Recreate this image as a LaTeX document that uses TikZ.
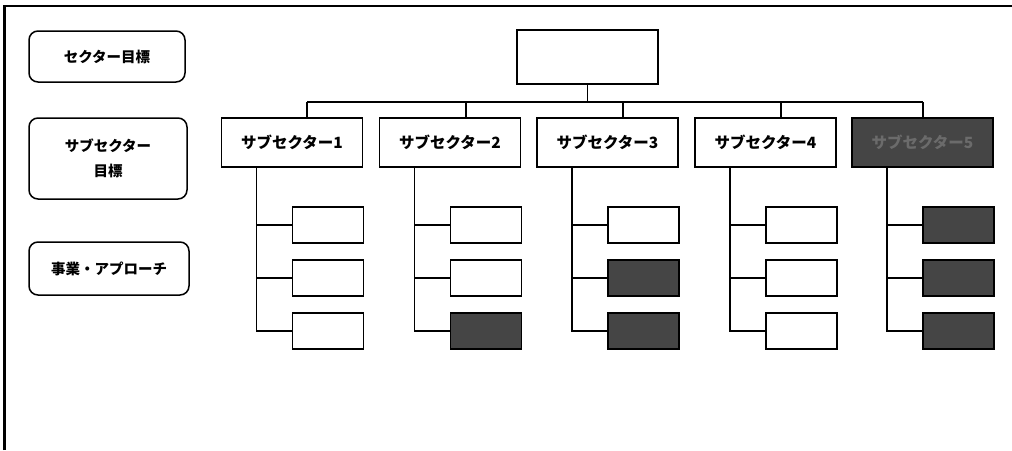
\documentclass[tikz,border=0pt]{standalone}
\usepackage{fontspec}
\newfontfamily\jp{Noto Sans CJK JP}
\definecolor{dk}{gray}{0.27}
\definecolor{dktext}{gray}{0.42}
\begin{document}
\begin{tikzpicture}[x=1pt,y=-1pt,
  ln/.style={line width=1.5pt},
  lbox/.style={draw,line width=1.5pt,rounded corners=9pt,align=center,inner sep=0pt,font=\jp\bfseries\fontsize{14.5}{25}\selectfont},
  sbox/.style={draw,line width=1.7pt,minimum width=141pt,minimum height=49pt,inner sep=0pt,font=\jp\bfseries\fontsize{15.5}{17}\selectfont},
  cbox/.style={draw,line width=1.7pt,minimum width=71pt,minimum height=36pt,inner sep=0pt},
  dark/.style={fill=dk,text=dktext}]
\useasboundingbox (0,0) rectangle (1012,450);
% frame
\draw[line width=2.2pt] (4.5,450) -- (4.5,6) -- (1012,6);
% legend boxes
\node[lbox,minimum width=156pt,minimum height=51pt] (l1) at (107,56.5) {セクター目標};
\node[lbox,minimum width=158pt,minimum height=81pt] (l2) at (108,158.5) {サブセクター\\目標};
\node[lbox,minimum width=160pt,minimum height=53pt] (l3) at (109,268.5) {事業・アプローチ};
% top box
\node[draw,line width=1.7pt,minimum width=141pt,minimum height=54pt] (top) at (587.5,57) {};
% sub sector boxes
\node[sbox] (s1) at (292,142.5) {サブセクター1};
\node[sbox] (s2) at (450,142.5) {サブセクター2};
\node[sbox] (s3) at (607.5,142.5) {サブセクター3};
\node[sbox] (s4) at (765.5,142.5) {サブセクター4};
\node[sbox,dark] (s5) at (922.5,142.5) {サブセクター5};
% bar
\coordinate (b0) at (307,102);
\coordinate (b5) at (923,102);
\draw[ln] (top.south) -- (top.south |- b0);
\draw[ln] (b0) -- (b5);
\draw[ln] (b0) -- (b0 |- s1.north);
\draw[ln] (466,102) coordinate (b2) -- (b2 |- s2.north);
\draw[ln] (623,102) coordinate (b3) -- (b3 |- s3.north);
\draw[ln] (781,102) coordinate (b4) -- (b4 |- s4.north);
\draw[ln] (b5) -- (b5 |- s5.north);
% children
\foreach \s/\fa/\fb/\fc in {1/white/white/white,2/white/white/dk,3/white/dk/dk,4/white/white/white,5/dk/dk/dk}{
  \coordinate (t\s) at ([xshift=36pt]s\s.south west);
  \node[cbox,fill=\fa] (c\s1) at ([xshift=-35.5pt,yshift=-57pt]s\s.south east) {};
  \node[cbox,fill=\fb] (c\s2) at ([xshift=-35.5pt,yshift=-110pt]s\s.south east) {};
  \node[cbox,fill=\fc] (c\s3) at ([xshift=-35.5pt,yshift=-163pt]s\s.south east) {};
  \draw[ln] (t\s) |- (c\s3.west);
  \draw[ln] (t\s |- c\s1.west) -- (c\s1.west);
  \draw[ln] (t\s |- c\s2.west) -- (c\s2.west);
}
\end{tikzpicture}
\end{document}
